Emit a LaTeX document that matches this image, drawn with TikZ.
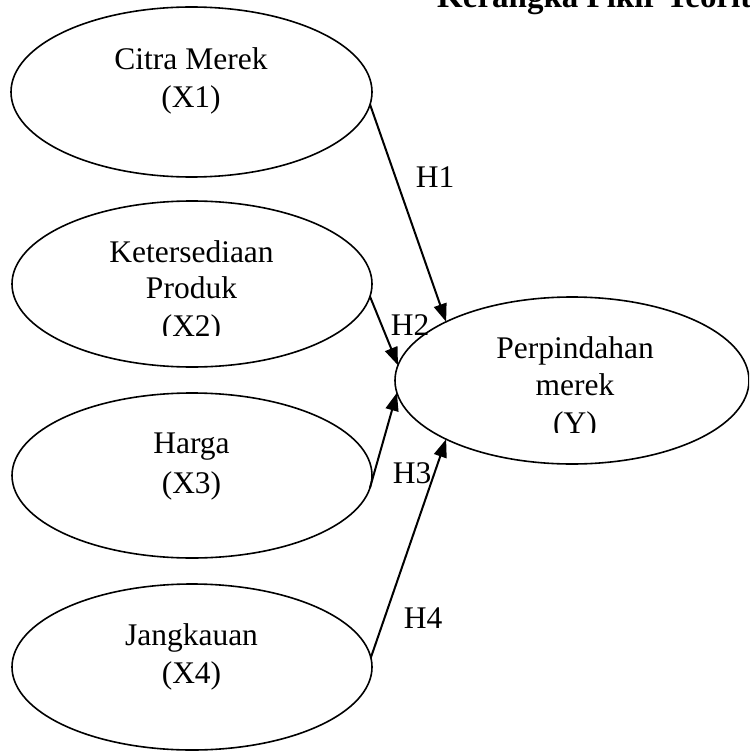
\documentclass[tikz,border=0pt]{standalone}
\usepackage{fontspec}
\setmainfont{Liberation Serif}
\usetikzlibrary{shapes.geometric,arrows.meta}
\tikzset{
  construct/.style={draw, ellipse, line width=1.6pt, inner sep=0pt, outer sep=0pt},
  label/.style={anchor=base, inner sep=0pt, font=\fontsize{31.5}{38}\selectfont},
  hyp/.style={line width=2pt, -{Triangle[length=18pt,width=13pt]}},
}
\begin{document}
\begin{tikzpicture}[x=1pt, y=-1pt]
\useasboundingbox (0,0) rectangle (749,751);
\clip (0,0) rectangle (749,751);

% title (runs off the top and right edge)
\node[inner sep=0pt, anchor=base west, font=\fontsize{33}{40}\selectfont\bfseries] (title) at (437,8) {Kerangka Pikir Teoritis};

% independent constructs
\node[construct, minimum width=361pt, minimum height=170pt] (x1) at (191.5,92) {};
\node[construct, minimum width=360pt, minimum height=166pt] (x2) at (192,284) {};
\node[construct, minimum width=360pt, minimum height=165pt] (x3) at (192,475.5) {};
\node[construct, minimum width=360pt, minimum height=166pt] (x4) at (192,667) {};
% dependent construct
\node[construct, minimum width=354pt, minimum height=167pt] (y) at (572,380.5) {};

% construct names
\node[label] (x1a) at (191,70) {Citra Merek};
\node[label] (x1b) at (191,108) {(X1)};
\node[label] (x2a) at (191.5,262) {Ketersediaan};
\node[label] (x2b) at (191.5,298) {Produk};
\begin{scope}
  \clip (0,0) rectangle (749,335);
  \node[label] (x2c) at (191.5,336) {(X2)};
\end{scope}
\node[label] (x3a) at (191.5,453) {Harga};
\node[label] (x3b) at (191.5,493) {(X3)};
\node[label] (x4a) at (191.5,645) {Jangkauan};
\node[label] (x4b) at (191.5,683) {(X4)};
\node[label] (ya) at (575,358) {Perpindahan};
\node[label] (yb) at (575,395) {merek};
\begin{scope}
  \clip (0,0) rectangle (749,432);
  \node[label] (yc) at (575,433) {(Y)};
\end{scope}

% hypotheses
\draw[hyp] (x1.-4) -- (y.155);
\draw[hyp] (x2.-4) -- (y.175.3);
\draw[hyp] (x3.-4) -- (y.184.7);
\draw[hyp] (x4.3) -- (y.205.3);

\node[label, anchor=center] (h1) at (435,177) {H1};
\node[label, anchor=center] (h2) at (410,325) {H2};
\node[label, anchor=center] (h3) at (412,473) {H3};
\node[label, anchor=center] (h4) at (423,618) {H4};
\end{tikzpicture}
\end{document}
